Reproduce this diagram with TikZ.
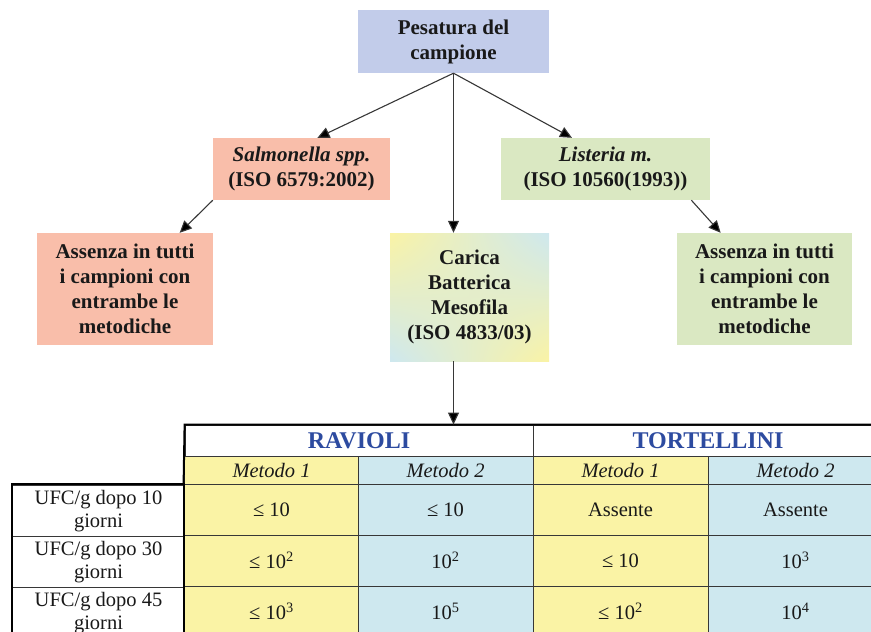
\documentclass[tikz,border=0pt]{standalone}
\usepackage{fontspec}
\setmainfont{Liberation Serif}
\usetikzlibrary{arrows.meta,calc,shadings}
\definecolor{lav}{RGB}{194,204,234}
\definecolor{salm}{RGB}{249,190,170}
\definecolor{grn}{RGB}{218,232,194}
\definecolor{yel}{RGB}{250,243,165}
\definecolor{lblu}{RGB}{206,232,239}
\definecolor{hblue}{RGB}{45,75,160}
\definecolor{lin}{RGB}{55,55,55}
\definecolor{txt}{RGB}{25,25,25}
\begin{document}
\begin{tikzpicture}[x=1pt,y=-1pt,
 box/.style={fill=#1, inner sep=0pt, align=center, text=txt, font=\fontsize{21}{25}\selectfont\bfseries},
 arr/.style={-{Triangle[length=12pt,width=11pt,fill=black]}, draw=lin, line width=1.1pt},
 cell/.style={draw=lin, line width=0.8pt, fill=#1, inner sep=0pt, align=center, text=txt, font=\fontsize{20.5}{23.5}\selectfont},
 mcell/.style={cell=#1, minimum height=28pt, minimum width=175pt, font=\fontsize{20.5}{22}\selectfont\itshape},
 dcell/.style={cell=#1, minimum height=51pt, minimum width=175pt},
 hcell/.style={cell=white, minimum height=31pt, font=\fontsize{24}{26}\selectfont\bfseries, text=hblue},
]
\useasboundingbox (0,0) rectangle (871,632);
\clip (0,0) rectangle (871,632);

% flowchart boxes
\node[box=lav, minimum width=191pt, minimum height=63pt] (top) at (453.5,41.5) {Pesatura del\\campione};
\node[box=salm, minimum width=177pt, minimum height=62pt] (sal) at (301.5,169) {\textit{Salmonella spp.}\\(ISO 6579:2002)};
\node[box=grn, minimum width=209pt, minimum height=62pt] (lis) at (605.5,169) {\textit{Listeria m.}\\(ISO 10560(1993))};
\node[box=salm, minimum width=176pt, minimum height=112pt] (la) at (125,289) {Assenza in tutti\\i campioni con\\entrambe le\\metodiche};
\node[box=grn, minimum width=175pt, minimum height=112pt] (ra) at (764.5,289) {Assenza in tutti\\i campioni con\\entrambe le\\metodiche};
\node[box=white, shade, upper left=yel, upper right=lblu, lower left=lblu, lower right=yel, minimum width=159pt, minimum height=128pt] (car) at (469.5,297) {Carica\\Batterica\\Mesofila\\(ISO 4833/03)};

% table
\node[hcell, minimum width=348pt] (rav) at (359,440.5) {RAVIOLI};
\node[hcell, minimum width=350pt] (tor) at (708,440.5) {TORTELLINI};

\node[mcell=yel] (m1) at (271.5,470) {Metodo 1};
\node[mcell=lblu] (m2) at (445.5,470) {Metodo 2};
\node[mcell=yel] (m3) at (620.5,470) {Metodo 1};
\node[mcell=lblu] (m4) at (795.5,470) {Metodo 2};

\node[dcell=white, minimum width=173pt] (l1) at (98.5,511) {UFC/g dopo 10\\giorni};
\node[dcell=white, minimum width=173pt] (l2) at (98.5,562) {UFC/g dopo 30\\giorni};
\node[dcell=white, minimum width=173pt] (l3) at (98.5,613) {UFC/g dopo 45\\giorni};

\node[dcell=yel]  (a1) at (271.5,509.5) {≤ 10};
\node[dcell=lblu] (b1) at (445.5,509.5) {≤ 10};
\node[dcell=yel]  (c1) at (620.5,509.5) {Assente};
\node[dcell=lblu] (d1) at (795.5,509.5) {Assente};

\node[dcell=yel]  (a2) at (271.5,560.5) {≤ 10\textsuperscript{2}};
\node[dcell=lblu] (b2) at (445.5,560.5) {10\textsuperscript{2}};
\node[dcell=yel]  (c2) at (620.5,560.5) {≤ 10};
\node[dcell=lblu] (d2) at (795.5,560.5) {10\textsuperscript{3}};

\node[dcell=yel]  (a3) at (271.5,611.5) {≤ 10\textsuperscript{3}};
\node[dcell=lblu] (b3) at (445.5,611.5) {10\textsuperscript{5}};
\node[dcell=yel]  (c3) at (620.5,611.5) {≤ 10\textsuperscript{2}};
\node[dcell=lblu] (d3) at (795.5,611.5) {10\textsuperscript{4}};

% thick outer border
\draw[line width=2pt, black] (a3.south west) -- (a1.north west) -- (a1.north west -| l1.west) -- (l3.south west);
\draw[line width=2pt, black] (a1.north west) -- (rav.north west) -- (tor.north east);
\draw[line width=1.4pt, lin] (rav.south west) -- (tor.south east);

% connectors
\draw[arr] (top.south) -- ($(sal.north west)!0.59!(sal.north east)$);
\draw[arr] (top.south) -- ($(lis.north west)!0.34!(lis.north east)$);
\draw[arr] (top.south) -- (top.south |- car.north);
\draw[arr] (sal.south west) -- ($(la.north west)!0.81!(la.north east)$);
\draw[arr] ($(lis.south west)!0.91!(lis.south east)$) -- ($(ra.north west)!0.25!(ra.north east)$);
\draw[arr] (top.south |- car.south) -- (top.south |- rav.north);
\end{tikzpicture}
\end{document}
